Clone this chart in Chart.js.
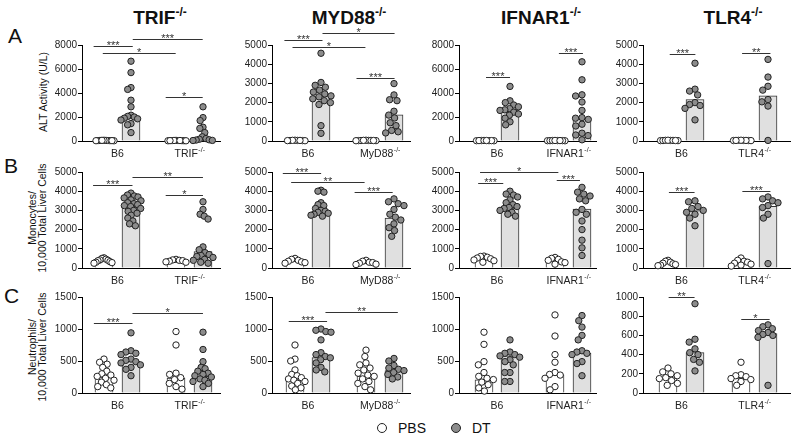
<!DOCTYPE html>
<html>
<head>
<meta charset="utf-8">
<script src="https://cdn.jsdelivr.net/npm/chart.js@4.4.1/dist/chart.umd.min.js"></script>
<style>
  body { margin: 0; background: #fff; }
  #fig { position: relative; width: 800px; height: 441px; overflow: hidden;
         font-family: "Liberation Sans", Arial, sans-serif; color: #111; }
  #fig canvas { position: absolute; }
  .title { position: absolute; top: 8px; font-weight: bold; font-size: 19px; line-height: 20px;
           white-space: nowrap; transform: translateX(-50%); }
  .title sup { font-size: 12px; vertical-align: baseline; position: relative; top: -8px; }
  .letter { position: absolute; font-size: 21px; line-height: 21px; }
  .ytitle { position: absolute; font-size: 10.5px; line-height: 9.5px; text-align: center;
            white-space: nowrap; transform: translate(-50%, -50%) rotate(-90deg); }
  .dot { position: absolute; width: 10px; height: 10px; box-sizing: border-box;
         border: 1.5px solid #222; border-radius: 50%; }
  .ltext { position: absolute; font-size: 14px; line-height: 14px; }
</style>
</head>
<body>
<div id="fig">
  <div class="title" style="left:160px">TRIF<sup>-/-</sup></div>
  <div class="title" style="left:349px">MYD88<sup>-/-</sup></div>
  <div class="title" style="left:541px">IFNAR1<sup>-/-</sup></div>
  <div class="title" style="left:733px">TLR4<sup>-/-</sup></div>

  <div class="letter" style="left:8px;top:25px">A</div>
  <div class="letter" style="left:4px;top:155px">B</div>
  <div class="letter" style="left:4px;top:285px">C</div>

  <div class="ytitle" style="left:43.5px;top:92px">ALT Activity (U/L)</div>
  <div class="ytitle" style="left:36.5px;top:218px">Monocytes/<br>10,000 Total Liver Cells</div>
  <div class="ytitle" style="left:36.5px;top:347px">Neutrophils/<br>10,000 Total Liver Cells</div>

  <div class="dot" style="left:377px;top:423px;background:#fff"></div>
  <div class="ltext" style="left:398px;top:421px">PBS</div>
  <div class="dot" style="left:451px;top:423px;background:#8c8c8c"></div>
  <div class="ltext" style="left:472px;top:421px">DT</div>
</div>

<script>
// ---- data ----
const koLabels = ['TRIF', 'MyD88', 'IFNAR1', 'TLR4']

const altMax = [8000, 5000, 8000, 5000]
const altStep = [2000, 1000, 2000, 1000]
const monoMax = [5000, 5000, 5000, 5000]
const monoStep = [1000, 1000, 1000, 1000]
const neutMax = [1500, 1500, 1500, 1000]
const neutStep = [500, 500, 500, 200]

// ALT activity
const altTrifB6Pbs = [40, 30, 50, 20, 60, 35, 45, 25, 30, 55]
const altTrifB6Dt = [6650, 5700, 4450, 4300, 3400, 2850, 2150, 2050, 2000, 1900, 1850, 1750, 1450, 1350, 700]
const altTrifKoPbs = [30, 40, 20, 50, 35, 45, 25, 30, 40, 20]
const altTrifKoDt = [2850, 1950, 1700, 1150, 1050, 700, 350, 200, 150, 100, 80, 50, 40]
const altTrifBars = [30, 2030, 30, 200]
const altTrifSig = [[0.43, 1.88, 7900, '***'], [0.77, 3.47, 7310, '*'], [1.88, 4.47, 8500, '***'], [3.1, 4.47, 3700, '*']]

const altMydB6Pbs = [20, 30, 25, 40, 15, 35, 30, 20]
const altMydB6Dt = [4570, 3050, 2900, 2800, 2650, 2550, 2450, 2350, 2300, 2200, 2100, 2000, 1900, 800, 400]
const altMydKoPbs = [20, 30, 25, 40, 15, 35, 30, 20, 25]
const altMydKoDt = [2990, 2400, 2150, 2100, 1550, 1350, 1200, 950, 800, 550, 480, 420]
const altMydBars = [25, 2350, 25, 1360]
const altMydSig = [[0.46, 1.87, 5260, '***'], [1.87, 4.54, 5600, '*'], [0.76, 3.46, 4880, '*'], [3.13, 4.54, 3300, '***']]

const altIfnB6Pbs = [30, 40, 25, 35, 20, 45, 30, 40]
const altIfnB6Dt = [4550, 3350, 3200, 3000, 2850, 2700, 2600, 2550, 2400, 2250, 2150, 1900, 1600, 1350]
const altIfnKoPbs = [25, 35, 30, 40, 20, 30, 45, 35]
const altIfnKoDt = [6600, 5100, 3850, 3750, 3250, 2550, 1950, 1900, 1800, 1400, 1250, 650, 500, 450, 100]
const altIfnBars = [30, 2570, 30, 1890]
const altIfnSig = [[1.0, 1.89, 5330, '***'], [3.7, 4.59, 7320, '***']]

const altTlrB6Pbs = [20, 30, 25, 35, 40, 30, 20, 25]
const altTlrB6Dt = [4050, 2700, 2600, 2400, 2000, 1900, 1850, 1700, 1100]
const altTlrKoPbs = [25, 30, 20, 35, 30, 40, 25, 30]
const altTlrKoDt = [4250, 3330, 2850, 2650, 2160, 2040, 1820, 30]
const altTlrBars = [25, 2160, 25, 2350]
const altTlrSig = [[0.99, 1.94, 4520, '***'], [3.67, 4.72, 4600, '**']]

// Monocytes / 10,000 total liver cells
const monoTrifB6Pbs = [530, 500, 460, 420, 400, 380, 330, 300, 280, 250]
const monoTrifB6Dt = [3900, 3800, 3750, 3700, 3650, 3550, 3500, 3400, 3350, 3300, 3250, 3200, 3100, 3000, 2950, 2850, 2750, 2600, 2450, 2300, 2200]
const monoTrifKoPbs = [450, 420, 400, 380, 350, 320, 300]
const monoTrifKoDt = [3450, 3050, 2800, 2700, 2550, 1100, 950, 800, 700, 650, 600, 550, 450, 400, 300, 250]
const monoTrifBars = [420, 3250, 380, 850]
const monoTrifSig = [[0.41, 1.87, 4340, '***'], [1.87, 4.48, 4740, '**'], [3.1, 4.48, 3820, '*']]

const monoMydB6Pbs = [500, 450, 400, 350, 320, 280, 250]
const monoMydB6Dt = [4050, 4000, 3950, 3400, 3300, 3250, 3100, 3000, 2950, 2900, 2850, 2800, 2750, 2700]
const monoMydKoPbs = [400, 350, 300, 280, 250, 200, 180]
const monoMydKoDt = [3600, 3450, 3350, 3250, 3050, 2800, 2650, 2500, 2300, 2100, 1950, 1650]
const monoMydBars = [420, 2830, 250, 2600]
const monoMydSig = [[0.4, 1.82, 4950, '***'], [0.71, 3.43, 4480, '**'], [3.06, 4.47, 3960, '***']]

const monoIfnB6Pbs = [620, 600, 560, 520, 480, 420, 380, 300]
const monoIfnB6Dt = [4000, 3850, 3800, 3700, 3550, 3400, 3300, 3200, 3150, 3100, 3000, 2900, 2800, 2700]
const monoIfnKoPbs = [550, 500, 450, 400, 320, 280, 200]
const monoIfnKoDt = [4200, 3950, 3850, 3750, 3600, 3500, 3050, 2900, 2800, 2450, 2000, 1450, 1050, 650]
const monoIfnBars = [500, 3125, 350, 3070]
const monoIfnSig = [[0.78, 3.68, 4980, '*'], [0.71, 1.64, 4430, '***'], [3.62, 4.48, 4570, '***']]

const monoTlrB6Pbs = [400, 350, 300, 250, 220, 180, 150, 120]
const monoTlrB6Dt = [3500, 3450, 3200, 3100, 3000, 2900, 2800, 2600, 2200]
const monoTlrKoPbs = [520, 400, 350, 300, 250, 200, 150, 100]
const monoTlrKoDt = [3700, 3600, 3500, 3400, 3250, 3150, 2800, 2600, 230]
const monoTlrBars = [280, 2990, 300, 3210]
const monoTlrSig = [[0.96, 1.91, 3960, '***'], [3.68, 4.72, 4030, '***']]

// Neutrophils / 10,000 total liver cells
const neutTrifB6Pbs = [530, 480, 450, 400, 340, 300, 280, 260, 230, 200, 170, 130, 100, 80]
const neutTrifB6Dt = [940, 660, 640, 620, 600, 530, 510, 490, 470, 440, 400, 370, 270]
const neutTrifKoPbs = [960, 750, 310, 290, 240, 210, 150, 100, 60]
const neutTrifKoDt = [950, 680, 490, 400, 380, 340, 310, 290, 270, 250, 220, 200, 180, 150, 100]
const neutTrifBars = [250, 495, 234, 260]
const neutTrifSig = [[0.44, 1.87, 1094, '***'], [1.87, 4.48, 1250, '*']]

const neutMydB6Pbs = [750, 530, 500, 360, 290, 270, 240, 220, 200, 180, 150, 110, 80, 50]
const neutMydB6Dt = [1000, 980, 960, 950, 830, 630, 600, 570, 550, 520, 470, 400, 360, 330]
const neutMydKoPbs = [670, 570, 470, 440, 390, 360, 310, 280, 260, 220, 180, 150, 100, 50]
const neutMydKoDt = [540, 500, 430, 390, 370, 350, 320, 290, 250, 220]
const neutMydBars = [222, 553, 260, 350]
const neutMydSig = [[0.62, 2.04, 1120, '***'], [1.98, 4.66, 1266, '**']]

const neutIfnB6Pbs = [950, 760, 490, 440, 320, 260, 230, 210, 170, 130, 80, 30]
const neutIfnB6Dt = [830, 640, 620, 600, 580, 560, 520, 490, 440, 320, 320, 180, 180]
const neutIfnKoPbs = [1220, 890, 600, 480, 320, 290, 280, 230, 100, 50]
const neutIfnKoDt = [1210, 1130, 1030, 900, 830, 660, 640, 620, 600, 490, 460, 270]
const neutIfnBars = [207, 580, 285, 621]
const neutIfnSig = []

const neutTlrB6Pbs = [260, 220, 200, 180, 160, 150, 130, 100, 80]
const neutTlrB6Dt = [930, 560, 530, 460, 420, 400, 350, 320, 230]
const neutTlrKoPbs = [320, 190, 180, 170, 150, 140, 120, 80]
const neutTlrKoDt = [710, 690, 670, 650, 630, 610, 600, 580, 80]
const neutTlrBars = [155, 420, 155, 620]
const neutTlrSig = [[0.95, 1.91, 1000, '**'], [3.64, 4.69, 776, '*']]

// ---- layout ----
const PLOT_H = 96
const PAD_T = 26
const PAD_R = 12
const X_AXIS_H = 24
const Y_AXIS_W = 40
const UNIT_PX = 27
const AXIS_X = [82, 272, 459, 643]
const ROW_TOP = [45, 172, 297]
const PLOT_W = [138, 138, 137, 147]
const GROUP_OFFSETS = [[22, 49, 94, 121], [23, 49, 94, 122], [25, 51, 96, 123], [25, 52, 98, 125]]
const DOT_R = 3.2
const DOT_GAP = 6.5
const SWARM_HALF = 10
const FONT = '"Liberation Sans", Arial, sans-serif'

const panels = [
  [altTrifB6Pbs, altTrifB6Dt, altTrifKoPbs, altTrifKoDt, altTrifBars, altTrifSig],
  [altMydB6Pbs, altMydB6Dt, altMydKoPbs, altMydKoDt, altMydBars, altMydSig],
  [altIfnB6Pbs, altIfnB6Dt, altIfnKoPbs, altIfnKoDt, altIfnBars, altIfnSig],
  [altTlrB6Pbs, altTlrB6Dt, altTlrKoPbs, altTlrKoDt, altTlrBars, altTlrSig],
  [monoTrifB6Pbs, monoTrifB6Dt, monoTrifKoPbs, monoTrifKoDt, monoTrifBars, monoTrifSig],
  [monoMydB6Pbs, monoMydB6Dt, monoMydKoPbs, monoMydKoDt, monoMydBars, monoMydSig],
  [monoIfnB6Pbs, monoIfnB6Dt, monoIfnKoPbs, monoIfnKoDt, monoIfnBars, monoIfnSig],
  [monoTlrB6Pbs, monoTlrB6Dt, monoTlrKoPbs, monoTlrKoDt, monoTlrBars, monoTlrSig],
  [neutTrifB6Pbs, neutTrifB6Dt, neutTrifKoPbs, neutTrifKoDt, neutTrifBars, neutTrifSig],
  [neutMydB6Pbs, neutMydB6Dt, neutMydKoPbs, neutMydKoDt, neutMydBars, neutMydSig],
  [neutIfnB6Pbs, neutIfnB6Dt, neutIfnKoPbs, neutIfnKoDt, neutIfnBars, neutIfnSig],
  [neutTlrB6Pbs, neutTlrB6Dt, neutTlrKoPbs, neutTlrKoDt, neutTlrBars, neutTlrSig],
]
const rowMax = [altMax, monoMax, neutMax]
const rowStep = [altStep, monoStep, neutStep]

// simple beeswarm: horizontal offsets (px) so dots don't overlap too much
function swarm(values, yMax) {
  const k = PLOT_H / yMax
  const order = values.map((v, i) => i).sort((a, b) => values[b] - values[a])
  const placed = []
  const out = new Array(values.length).fill(0)
  for (const i of order) {
    const y = values[i] * k
    const blocked = []
    for (const p of placed) {
      const dy = Math.abs(p.y - y)
      if (dy < DOT_GAP) {
        const w = Math.sqrt(DOT_GAP * DOT_GAP - dy * dy)
        blocked.push([p.x - w, p.x + w])
      }
    }
    const cands = [0]
    blocked.forEach(b => cands.push(b[0], b[1]))
    cands.sort((a, b) => Math.abs(a) - Math.abs(b))
    let x = 0
    for (const c of cands) {
      if (!blocked.some(b => c > b[0] + 1e-6 && c < b[1] - 1e-6)) { x = c; break }
    }
    placed.push({ x, y })
    out[i] = x
  }
  const m = Math.max(...out.map(Math.abs))
  const s = m > SWARM_HALF ? SWARM_HALF / m : 1
  return out.map(x => x * s / UNIT_PX)
}

const sigPlugin = {
  id: 'sig',
  afterDatasetsDraw(chart, args, opts) {
    const { ctx, scales: { x, y } } = chart
    ctx.save()
    ctx.strokeStyle = '#333'
    ctx.fillStyle = '#333'
    ctx.lineWidth = 1
    ctx.font = '11px ' + FONT
    ctx.textAlign = 'center'
    ctx.textBaseline = 'alphabetic'
    for (const [x1, x2, v, txt] of opts.list || []) {
      const px1 = x.getPixelForValue(x1)
      const px2 = x.getPixelForValue(x2)
      const py = Math.round(y.getPixelForValue(v)) + 0.5
      ctx.beginPath()
      ctx.moveTo(px1, py)
      ctx.lineTo(px2, py)
      ctx.stroke()
      ctx.fillText(txt, (px1 + px2) / 2, py + 2.5)
    }
    ctx.restore()
  }
}

const groupLabelPlugin = {
  id: 'groupLabels',
  afterDraw(chart, args, opts) {
    const { ctx, chartArea, scales: { x } } = chart
    ctx.save()
    ctx.fillStyle = '#222'
    ctx.textBaseline = 'middle'
    ctx.textAlign = 'left'
    const cy = chartArea.bottom + 13
    for (const g of opts.groups) {
      const cx = x.getPixelForValue(g.at)
      ctx.font = '10.5px ' + FONT
      const wMain = ctx.measureText(g.text).width
      let wSup = 0
      if (g.sup) { ctx.font = '7px ' + FONT; wSup = ctx.measureText(g.sup).width }
      const x0 = cx - (wMain + wSup) / 2
      ctx.font = '10.5px ' + FONT
      ctx.fillText(g.text, x0, cy)
      if (g.sup) {
        ctx.font = '7px ' + FONT
        ctx.fillText(g.sup, x0 + wMain + 0.5, cy - 4)
      }
    }
    ctx.restore()
  }
}

const fig = document.getElementById('fig')

panels.forEach((pd, idx) => {
  const row = Math.floor(idx / 4)
  const col = idx % 4
  const [b6Pbs, b6Dt, koPbs, koDt, bars, sig] = pd
  const yMax = rowMax[row][col]
  const xpos = GROUP_OFFSETS[col].map(o => o / UNIT_PX)

  const cv = document.createElement('canvas')
  const w = Y_AXIS_W + PLOT_W[col] + PAD_R
  const h = PAD_T + PLOT_H + X_AXIS_H
  cv.width = w
  cv.height = h
  cv.style.width = w + 'px'
  cv.style.height = h + 'px'
  cv.style.left = (AXIS_X[col] - Y_AXIS_W) + 'px'
  cv.style.top = (ROW_TOP[row] - PAD_T) + 'px'
  fig.appendChild(cv)

  const pts = (vals, gi) => {
    const off = swarm(vals, yMax)
    return vals.map((v, i) => ({ x: xpos[gi] + off[i], y: v }))
  }
  const pbsPts = pts(b6Pbs, 0).concat(pts(koPbs, 2))
  const dtPts = pts(b6Dt, 1).concat(pts(koDt, 3))

  new Chart(cv, {
    type: 'bar',
    data: {
      datasets: [
        {
          type: 'scatter', label: 'PBS', data: pbsPts, order: 0, clip: false,
          pointRadius: DOT_R, pointBackgroundColor: '#fff', pointBorderColor: '#222', pointBorderWidth: 1
        },
        {
          type: 'scatter', label: 'DT', data: dtPts, order: 0, clip: false,
          pointRadius: DOT_R, pointBackgroundColor: '#8c8c8c', pointBorderColor: '#222', pointBorderWidth: 1
        },
        {
          type: 'bar', label: 'median', order: 1, clip: false,
          data: xpos.map((x, i) => ({ x: x, y: bars[i] })),
          backgroundColor: ['#fff', '#e0e0e0', '#fff', '#e0e0e0'],
          borderColor: '#333', borderWidth: 1, barThickness: 18
        }
      ]
    },
    options: {
      responsive: false,
      animation: false,
      events: [],
      layout: { padding: { left: 0, top: PAD_T, right: PAD_R, bottom: 0 } },
      plugins: {
        legend: { display: false },
        tooltip: { enabled: false },
        sig: { list: sig },
        groupLabels: {
          groups: [
            { at: (xpos[0] + xpos[1]) / 2, text: 'B6' },
            { at: (xpos[2] + xpos[3]) / 2, text: koLabels[col], sup: '-/-' }
          ]
        }
      },
      scales: {
        x: {
          type: 'linear', min: 0, max: PLOT_W[col] / UNIT_PX, offset: false,
          ticks: { display: false },
          grid: { display: false },
          border: { display: true, color: '#000', width: 1 },
          afterFit(s) { s.height = X_AXIS_H }
        },
        y: {
          min: 0, max: yMax,
          ticks: {
            stepSize: rowStep[row][col], color: '#222', padding: 1,
            font: { size: 10, family: FONT },
            callback: v => String(v)
          },
          grid: { drawOnChartArea: false, drawTicks: true, tickLength: 4, color: '#000' },
          border: { display: true, color: '#000', width: 1 },
          afterFit(s) { s.width = Y_AXIS_W }
        }
      }
    },
    plugins: [sigPlugin, groupLabelPlugin]
  })
})
</script>
</body>
</html>
